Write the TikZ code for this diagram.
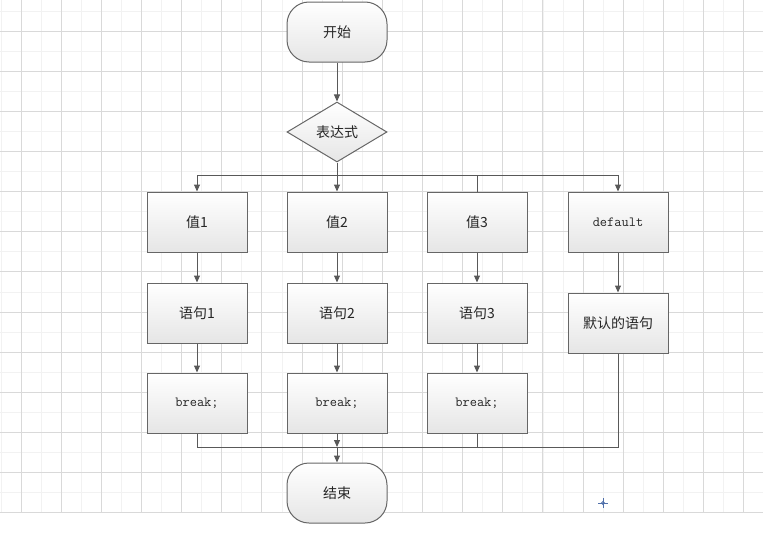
\documentclass[tikz,border=0pt]{standalone}
\usepackage{fontspec}
\setmainfont{Noto Sans CJK SC}
\usetikzlibrary{shapes.geometric,arrows.meta}
\definecolor{cursorblue}{RGB}{80,112,170}

\begin{document}
\begin{tikzpicture}[x=1pt,y=-1pt,
    every node/.style={font=\fontsize{14}{16}\selectfont, text=black!85},
    box/.style={draw=black!60, line width=1pt, rectangle, minimum width=100pt, minimum height=60pt,
      top color=white, bottom color=black!10},
    term/.style={box, rounded corners=22pt},
    cond/.style={box, diamond, aspect=1.667, inner sep=0pt},
    code/.style={font=\ttfamily\fontsize{14}{16}\selectfont},
    edge/.style={draw=black!65, line width=1pt},
    arr/.style={edge, -{Triangle[width=6pt,length=7pt]}},
    minor/.style={draw=black!5, line width=1pt},
    major/.style={draw=black!15, line width=1pt}]
    \useasboundingbox (0,0) rectangle (763,538);
    % draw the grid
    \foreach \i in {0,...,37} \draw[minor] (1+20.075*\i,0) -- (1+20.075*\i,513);
    \foreach \i in {0,...,25} \draw[minor] (0,11+20.075*\i) -- (763,11+20.075*\i);
    \foreach \i in {0,...,18} \draw[major] (21+40.15*\i,0) -- (21+40.15*\i,513);
    \foreach \i in {0,...,12} \draw[major] (0,31+40.15*\i) -- (763,31+40.15*\i);
    % draw the nodes
    \node[term] (start) at (337,32) {开始};
    \node[cond] (expr) at (337,132) {表达式};
    \node[box] (v1) at (197,222) {值1};
    \node[box] (v2) at (337,222) {值2};
    \node[box] (v3) at (477,222) {值3};
    \node[box, code] (def) at (618,222) {default};
    \node[box] (s1) at (197,313) {语句1};
    \node[box] (s2) at (337,313) {语句2};
    \node[box] (s3) at (477,313) {语句3};
    \node[box] (ds) at (618,323) {默认的语句};
    \node[box, code] (b1) at (197,403) {break;};
    \node[box, code] (b2) at (337,403) {break;};
    \node[box, code] (b3) at (477,403) {break;};
    \node[term] (end) at (337,493) {结束};
    % define the join points
    \coordinate (split) at (337,175);
    \coordinate (join) at (337,447);
    % draw the edges
    \draw[arr] (start) -- (expr);
    \draw[edge] (expr) -- (split);
    \draw[arr] (split) -| (v1);
    \draw[arr] (split) -- (v2);
    \draw[edge] (split) -| (v3);
    \draw[arr] (split) -| (def);
    \draw[arr] (v1) -- (s1);
    \draw[arr] (v2) -- (s2);
    \draw[arr] (v3) -- (s3);
    \draw[arr] (def) -- (ds);
    \draw[arr] (s1) -- (b1);
    \draw[arr] (s2) -- (b2);
    \draw[arr] (s3) -- (b3);
    \draw[edge] (b1) |- (join);
    \draw[edge] (b3) |- (join);
    \draw[edge] (ds) |- (join);
    \draw[arr] (b2) -- (join);
    \draw[arr] (join) -- (end);
    % draw the cursor mark
    \draw[cursorblue, line width=1pt] (598,503) -- (608,503) (603,498) -- (603,508);
    \draw[cursorblue, line width=0.8pt] (603,503) circle (1.5pt);
\end{tikzpicture}
\end{document}
